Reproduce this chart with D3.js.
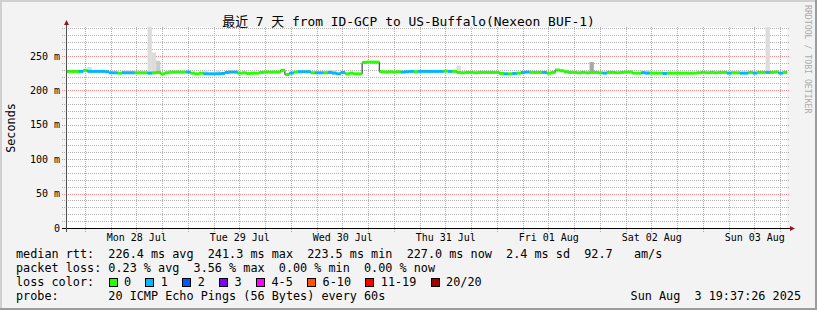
<!DOCTYPE html>
<html>
<head>
<meta charset="utf-8">
<script src="https://cdn.jsdelivr.net/npm/d3@7"></script>
<style>
  body { margin: 0; background: #f3f3f3; }
  svg { display: block; }
  text { font-family: "DejaVu Sans Mono", "Noto Sans CJK SC", monospace; }
</style>
</head>
<body>
<div id="chart"></div>
<script>
// smokeping style latency graph, 7 days, one sample per hour

const startTime = new Date(Date.UTC(2025, 6, 27, 19, 37, 26));
const endTime = new Date(Date.UTC(2025, 7, 3, 19, 37, 26));

// median rtt per hour (ms)
const median = [
  227.5,227.5,227.5,227.5,229,227.5,227.5,227.5,227.5,227,
  225.5,225.5,225,225.5,225.5,225.5,225.5,225.5,225.5,225,
  225.5,226,224,225.5,226.5,226.5,226.5,226.5,226.5,225,
  224,225,224,224,224,224,224.5,226,226.5,226.5,
  225,225.5,224.5,225,225,226,226.5,226.5,226.5,226.5,
  229,223,225,226.5,227,227,227,225.5,225.5,225.5,
  225.5,226,225,224,226,224,225,224,224,240.5,
  241,241,241,227,226.5,227,226.5,227,226.5,227,
  227.5,227,227.5,227.5,227.5,227.5,227.5,227.5,228,227.5,
  227.5,226,225.5,226,226,225.5,226,226,226,226,
  226,224.5,224,224,224.5,225,226,226.5,226,226,
  226,226,225,226,229.5,228.5,227,226,226,225.5,
  226,225.5,226,226,225.5,225,226,226,225.5,226,
  226.5,226.5,225,225,225.5,225,225,225,225,224.5,
  225,225,225,225,225,225,225,225.5,226,225.5,
  226,225.5,226,226,225,225.5,225.5,225,225,226,
  225,226,226,226,226,226.5,225,226
];

// lost pings (of 20) per hour
const lossCount = [
  0,0,0,1,0,1,1,1,1,1,
  1,1,0,1,1,1,0,0,0,1,
  0,0,0,0,0,0,0,0,1,0,
  0,0,1,1,1,1,1,1,1,1,
  0,0,0,0,0,0,0,0,0,0,
  0,0,1,0,1,1,1,0,1,1,
  0,1,1,1,1,0,0,0,0,0,
  0,0,0,0,0,0,0,0,1,1,
  1,0,1,1,1,1,1,1,0,1,
  0,0,0,0,0,0,0,0,0,0,
  0,0,1,0,1,0,1,1,0,0,
  0,1,0,0,0,0,0,0,0,0,
  0,0,0,0,0,1,0,0,0,0,
  0,0,0,0,1,1,0,0,0,1,
  0,0,0,0,0,0,0,0,0,0,
  0,0,0,0,1,0,0,1,1,0,
  1,0,0,1,0,0,1,0
];

// smoke (ping spread above median) for the hours where it shows
const smokeIdx = [5, 13, 14, 15, 19, 20, 21, 32, 35, 38, 60, 61, 62, 91, 122, 127, 134, 135, 155, 163];
const smokeTop = [234, 229, 229.5, 229, 292, 255, 243, 229, 229, 229, 229, 230, 229.5, 236, 241, 229, 229, 229, 229, 292];
const smokeDensity = [1, 1, 1, 1, 1, 1, 2, 1, 1, 1, 1, 1, 1, 1, 4, 1, 1, 1, 1, 1];

const yTicks = [0, 50, 100, 150, 200, 250];
const yTickLabels = ["0", "50 m", "100 m", "150 m", "200 m", "250 m"];

const lossLabels = ["0", "1", "2", "3", "4-5", "6-10", "11-19", "20/20"];
const lossColors = ["#26ff00", "#00b8ff", "#0059ff", "#7e00ff", "#ff00ff", "#ff5500", "#ff0000", "#a10000"];

const titleText = "最近 7 天 from ID-GCP to US-Buffalo(Nexeon BUF-1)";
const legendRtt = "median rtt:  226.4 ms avg  241.3 ms max  223.5 ms min  227.0 ms now  2.4 ms sd  92.7   am/s";
const legendLoss = "packet loss: 0.23 % avg  3.56 % max  0.00 % min  0.00 % now";
const legendProbe = "probe:       20 ICMP Echo Pings (56 Bytes) every 60s";
const stampText = "Sun Aug  3 19:37:26 2025";

const width = 817;
const height = 310;
const plot = { left: 66, right: 787, top: 27, bottom: 228 };

const svg = d3.select("#chart")
  .append("svg")
  .attr("width", width)
  .attr("height", height);

// frame
svg.append("rect").attr("width", width).attr("height", height).attr("fill", "#f3f3f3");
svg.append("rect").attr("x", 0).attr("y", 0).attr("width", width).attr("height", 2).attr("fill", "#d0d0d0");
svg.append("rect").attr("x", 0).attr("y", 0).attr("width", 2).attr("height", height).attr("fill", "#d0d0d0");
svg.append("rect").attr("x", 0).attr("y", height - 2).attr("width", width).attr("height", 2).attr("fill", "#9c9c9c");
svg.append("rect").attr("x", width - 2).attr("y", 0).attr("width", 2).attr("height", height).attr("fill", "#9c9c9c");

const x = d3.scaleUtc()
  .domain([startTime, endTime])
  .range([plot.left, plot.right]);

const y = d3.scaleLinear()
  .domain([0, 292])
  .range([plot.bottom, plot.top]);

svg.append("rect")
  .attr("x", plot.left)
  .attr("y", plot.top)
  .attr("width", plot.right - plot.left)
  .attr("height", plot.bottom - plot.top)
  .attr("fill", "#ffffff");

// grid, dotted: drawn as 1px dots so they stay crisp
const grid = svg.append("g");
const minorColor = "#b0b0b0";
const majorColor = "#f08c8c";

function hDots(v, color) {
  const yy = Math.round(y(v));
  grid.append("path")
    .attr("d", d3.range(plot.left - 4, plot.right + 3, 2).map(px => `M${px},${yy}h1v1h-1z`).join(""))
    .attr("fill", color);
}
function vDots(t, color) {
  const xx = Math.round(x(t));
  grid.append("path")
    .attr("d", d3.range(plot.top, plot.bottom + 4, 2).map(py => `M${xx},${py}h1v1h-1z`).join(""))
    .attr("fill", color);
}

const minorY = d3.range(10, 292, 10).filter(v => v % 50 !== 0);
const days = d3.utcDay.range(d3.utcDay.ceil(startTime), endTime);
const majorDays = days.filter((d, i) => i % 2 === 0);
const minorX = d3.utcHour.every(6).range(startTime, endTime)
  .filter(t => !majorDays.some(m => +m === +t));

minorY.forEach(v => hDots(v, minorColor));
minorX.forEach(t => vDots(t, minorColor));
yTicks.slice(1).forEach(v => hDots(v, majorColor));
majorDays.forEach(t => vDots(t, majorColor));

// samples
const hour = 3600 * 1000;
const samples = median.map((m, i) => ({
  t0: new Date(+startTime + i * hour),
  t1: new Date(Math.min(+startTime + (i + 1) * hour, +endTime)),
  m: m,
  loss: lossCount[i]
}));

const smokeShade = d3.scaleLinear().domain([1, 4]).range(["#dcdcdc", "#a8a8a8"]);
svg.append("g")
  .selectAll("rect")
  .data(smokeIdx.map((idx, k) => ({ s: samples[idx], top: smokeTop[k], dens: smokeDensity[k] })))
  .enter()
  .append("rect")
  .attr("x", d => x(d.s.t0))
  .attr("width", d => x(d.s.t1) - x(d.s.t0))
  .attr("y", d => y(d.top))
  .attr("height", d => y(d.s.m) - y(d.top))
  .attr("fill", d => smokeShade(d.dens));

const lossClass = n => n <= 3 ? n : n <= 5 ? 4 : n <= 10 ? 5 : n <= 19 ? 6 : 7;

const line = d3.line()
  .x(d => x(d[0]))
  .y(d => y(d[1]))
  .curve(d3.curveStepAfter);

svg.append("path")
  .datum(samples.map(s => [s.t0, s.m]).concat([[endTime, median[median.length - 1]]]))
  .attr("d", line)
  .attr("fill", "none")
  .attr("stroke", "#202020")
  .attr("stroke-width", 1);

svg.append("g")
  .selectAll("rect")
  .data(samples)
  .enter()
  .append("rect")
  .attr("x", d => x(d.t0))
  .attr("width", d => x(d.t1) - x(d.t0) + 0.2)
  .attr("y", d => y(d.m) - 1.5)
  .attr("height", 3)
  .attr("fill", d => lossColors[lossClass(d.loss)]);

// axes
svg.append("line")
  .attr("x1", plot.left - 4).attr("x2", plot.right + 4)
  .attr("y1", plot.bottom + 0.5).attr("y2", plot.bottom + 0.5)
  .attr("stroke", "#000");
svg.append("line")
  .attr("x1", plot.left + 0.5).attr("x2", plot.left + 0.5)
  .attr("y1", plot.bottom + 4).attr("y2", plot.top - 3)
  .attr("stroke", "#505050");
svg.append("path")
  .attr("d", `M${plot.left - 2},${plot.top - 2}L${plot.left + 3},${plot.top - 2}L${plot.left + 0.5},${plot.top - 7}Z`)
  .attr("fill", "#8b1a1a");
svg.append("path")
  .attr("d", `M${plot.right + 3},${plot.bottom - 2}L${plot.right + 3},${plot.bottom + 3}L${plot.right + 8},${plot.bottom + 0.5}Z`)
  .attr("fill", "#8b1a1a");

const yAxis = d3.axisLeft(y)
  .tickValues(yTicks)
  .tickFormat((d, i) => yTickLabels[i])
  .tickSize(0)
  .tickPadding(6);

svg.append("g")
  .attr("transform", `translate(${plot.left},0)`)
  .call(yAxis)
  .call(g => g.select(".domain").remove())
  .selectAll("text")
  .attr("fill", "#000")
  .style("font-family", "'DejaVu Sans Mono', monospace")
  .style("font-size", "10px");

const noons = days.map(d => d3.utcHour.offset(d, 12));
const xAxis = d3.axisBottom(x)
  .tickValues(noons)
  .tickFormat(d3.utcFormat("%a %d %b"))
  .tickSize(0)
  .tickPadding(6);

svg.append("g")
  .attr("transform", `translate(0,${plot.bottom})`)
  .call(xAxis)
  .call(g => g.select(".domain").remove())
  .selectAll("text")
  .attr("fill", "#000")
  .style("font-family", "'DejaVu Sans Mono', monospace")
  .style("font-size", "10px");

// texts
svg.append("text")
  .attr("x", width / 2)
  .attr("y", 26)
  .attr("text-anchor", "middle")
  .style("font-size", "12.9px")
  .text(titleText);

svg.append("text")
  .attr("transform", "translate(15,128) rotate(-90)")
  .attr("text-anchor", "middle")
  .style("font-size", "11.8px")
  .text("Seconds");

svg.append("text")
  .attr("transform", "translate(805,5) rotate(90)")
  .attr("fill", "#ababab")
  .style("font-size", "8.2px")
  .text("RRDTOOL / TOBI OETIKER");

const legend = svg.append("g").style("font-size", "11.8px").attr("fill", "#000");
const charW = 7.1;
legend.append("text").attr("x", 16).attr("y", 258).attr("xml:space", "preserve").style("white-space", "pre").text(legendRtt);
legend.append("text").attr("x", 16).attr("y", 272).attr("xml:space", "preserve").style("white-space", "pre").text(legendLoss);
legend.append("text").attr("x", 16).attr("y", 286).text("loss color:");
legend.append("text").attr("x", 16).attr("y", 300).attr("xml:space", "preserve").style("white-space", "pre").text(legendProbe);
legend.append("text").attr("x", 801).attr("y", 300).attr("text-anchor", "end").attr("xml:space", "preserve").style("white-space", "pre").text(stampText);

let pos = 108.5;
lossLabels.forEach((lab, i) => {
  legend.append("rect")
    .attr("x", Math.round(pos) + 0.5)
    .attr("y", 278.5)
    .attr("width", 8)
    .attr("height", 8)
    .attr("fill", lossColors[i])
    .attr("stroke", "#000");
  legend.append("text")
    .attr("x", pos + 15.4)
    .attr("y", 286)
    .text(lab);
  pos += 15.4 + lab.length * charW + 14.4;
});
</script>
</body>
</html>
